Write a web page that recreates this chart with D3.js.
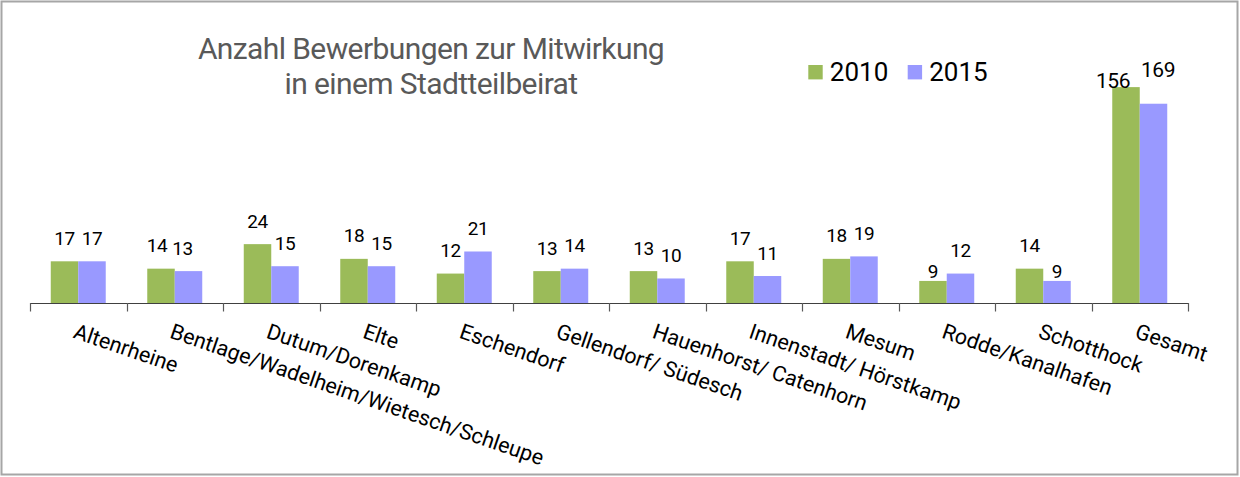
<!DOCTYPE html>
<html>
<head>
<meta charset="utf-8">
<script src="https://cdn.jsdelivr.net/npm/d3@7"></script>
<style>
  html, body { margin: 0; padding: 0; background: #fff; }
  svg { display: block; font-family: Roboto, "Noto Sans", sans-serif; }
</style>
</head>
<body>
<svg id="chart" width="1240" height="477"></svg>
<script>
// ---- data ----
const categories = [
  "Altenrheine",
  "Bentlage/Wadelheim/Wietesch/Schleupe",
  "Dutum/Dorenkamp",
  "Elte",
  "Eschendorf",
  "Gellendorf/ Südesch",
  "Hauenhorst/ Catenhorn",
  "Innenstadt/ Hörstkamp",
  "Mesum",
  "Rodde/Kanalhafen",
  "Schotthock",
  "Gesamt"
];
const series = ["2010", "2015"];
const values2010 = [17, 14, 24, 18, 12, 13, 13, 17, 18, 9, 14, 169];
const values2015 = [17, 13, 15, 15, 21, 14, 10, 11, 19, 12, 9, 156];
// data labels as printed in the chart (the "Gesamt" labels appear swapped)
const labels2010 = [17, 14, 24, 18, 12, 13, 13, 17, 18, 9, 14, 156];
const labels2015 = [17, 13, 15, 15, 21, 14, 10, 11, 19, 12, 9, 169];
const titleLines = ["Anzahl Bewerbungen zur Mitwirkung", "in einem Stadtteilbeirat"];

// ---- styles ----
const colors = { "2010": "#9BBB59", "2015": "#9999FF" };
const svg = d3.select("#chart");

// border
svg.append("rect")
  .attr("x", 1.5).attr("y", 1.5).attr("width", 1236).attr("height", 473)
  .attr("fill", "#fff").attr("stroke", "#a6a6a6").attr("stroke-width", 2);

// scales
const baseY = 303, topY = 70;
const x0 = d3.scaleBand().domain(categories).range([30, 1188]).padding(0);
const x1 = d3.scaleBand().domain(series).range([0, x0.bandwidth()]).paddingInner(0).paddingOuter(0.755);
const y = d3.scaleLinear().domain([0, 95]).range([baseY, topY]);
const y2 = d3.scaleLinear().domain([0, 182.4]).range([baseY, topY]); // "Gesamt" uses its own scale
const yFor = c => (c === "Gesamt" ? y2 : y);

const rows = categories.map((c, i) => ({
  cat: c,
  bars: [
    { s: "2010", v: values2010[i], label: labels2010[i] },
    { s: "2015", v: values2015[i], label: labels2015[i] }
  ]
}));

// title
svg.append("text")
  .attr("x", 431).attr("y", 58.5)
  .attr("text-anchor", "middle")
  .attr("fill", "#595959")
  .style("font-size", "30px")
  .style("letter-spacing", "-0.6px")
  .selectAll("tspan").data(titleLines).join("tspan")
  .attr("x", 431).attr("dy", (d, i) => i === 0 ? 0 : 35.5)
  .text(d => d);

// legend
const legend = svg.append("g").selectAll("g").data(series).join("g")
  .attr("transform", (d, i) => `translate(${808.3 + i * 99.4},0)`);
legend.append("rect").attr("x", 0).attr("y", 65).attr("width", 14.4).attr("height", 14.4)
  .attr("fill", d => colors[d]);
legend.append("text").attr("x", 21.5).attr("y", 81.2)
  .attr("fill", "#000").style("font-size", "26px").text(d => d);

// bars
const groups = svg.append("g").selectAll("g").data(rows).join("g")
  .attr("transform", d => `translate(${x0(d.cat)},0)`);

groups.selectAll("rect").data(d => d.bars.map(b => ({ ...b, cat: d.cat }))).join("rect")
  .attr("x", d => x1(d.s))
  .attr("width", x1.bandwidth())
  .attr("y", d => yFor(d.cat)(d.v))
  .attr("height", d => baseY - yFor(d.cat)(d.v))
  .attr("fill", d => colors[d.s]);

// data labels
const labelAdjust = {
  "Rodde/Kanalhafen|2010": { dx: 0, dy: -3 },
  "Schotthock|2015": { dx: 0, dy: -3 },
  "Gesamt|2010": { dx: -13, dy: 0.6 },
  "Gesamt|2015": { dx: 4.5, dy: -27.2 },
  "Bentlage/Wadelheim/Wietesch/Schleupe|2010": { dx: -4, dy: -16.5 },
  "Bentlage/Wadelheim/Wietesch/Schleupe|2015": { dx: -6, dy: -16.5 }
};
groups.selectAll("text").data(d => d.bars.map(b => ({ ...b, cat: d.cat }))).join("text")
  .attr("x", d => x1(d.s) + x1.bandwidth() / 2 + ((labelAdjust[d.cat + "|" + d.s] || {}).dx || 0))
  .attr("y", d => yFor(d.cat)(d.v) + ((labelAdjust[d.cat + "|" + d.s] || { dy: -16.5 }).dy))
  .attr("text-anchor", "middle")
  .attr("fill", "#000")
  .style("font-size", d => d.cat === "Gesamt" ? "21px" : "19px")
  .style("letter-spacing", "-0.4px")
  .text(d => d.label);

// x axis: line + ticks at band boundaries
const axis = svg.append("g");
const bounds = categories.map(c => x0(c)).concat([x0.range()[1]]);
axis.append("line")
  .attr("x1", x0.range()[0]).attr("x2", x0.range()[1])
  .attr("y1", baseY + 0.5).attr("y2", baseY + 0.5)
  .attr("stroke", "#404040").attr("stroke-width", 1.2);
axis.selectAll("line.tick").data(bounds).join("line").attr("class", "tick")
  .attr("x1", d => Math.round(d) + 0.5).attr("x2", d => Math.round(d) + 0.5)
  .attr("y1", baseY).attr("y2", baseY + 8.5)
  .attr("stroke", "#595959").attr("stroke-width", 1.2);

// rotated category labels
axis.selectAll("text").data(categories).join("text")
  .attr("transform", d => `translate(${x0(d) + x0.bandwidth() / 2 - 1},${323}) rotate(19)`)
  .attr("dy", "0.71em")
  .attr("text-anchor", "start")
  .attr("fill", "#000")
  .style("font-size", "21.5px")
  .text(d => d);
</script>
</body>
</html>
